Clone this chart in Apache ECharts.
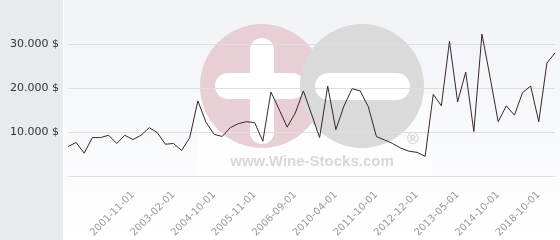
<!DOCTYPE html>
<html>
<head>
<meta charset="utf-8">
<script src="https://cdn.jsdelivr.net/npm/echarts@6/dist/echarts.min.js"></script>
<style>html,body{margin:0;padding:0;background:#fff}#c{width:560px;height:240px}</style>
</head>
<body>
<div id="c"></div>
<script>
var dates = ['', '', '', '', '', '', '', '', '2001-11-01', '', '', '', '', '2003-02-01', '', '', '', '', '2004-10-01', '', '', '', '', '2005-11-01', '', '', '', '', '2006-09-01', '', '', '', '', '2010-04-01', '', '', '', '', '2011-10-01', '', '', '', '', '2012-12-01', '', '', '', '', '2013-05-01', '', '', '', '', '2014-10-01', '', '', '', '', '2018-10-01', '', ''];
var prices = [6750, 7650, 5240, 8780, 8780, 9300, 7430, 9300, 8330, 9300, 11030, 9900, 7270, 7430, 5850, 8780, 17100, 12270, 9520, 9030, 11030, 11950, 12380, 12180, 7950, 19130, 15210, 11140, 14360, 19360, 14100, 8780, 20440, 10580, 15930, 19870, 19360, 15760, 9000, 8240, 7430, 6370, 5690, 5420, 4520, 18590, 15980, 30610, 16880, 23630, 10130, 32250, 22510, 12380, 15980, 13860, 18970, 20480, 12380, 25660, 27980];
var yTicks = [0, 10000, 20000, 30000, 40000];

var chart = echarts.init(document.getElementById('c'), null, {renderer: 'canvas'});
chart.setOption({
  animation: false,
  backgroundColor: '#ffffff',
  graphic: [
    {type: 'rect', z: -10, shape: {x: 0, y: 0, width: 63, height: 240}, style: {fill: '#e8ebee'}},
    {type: 'rect', z: -10, shape: {x: 64, y: 0, width: 496, height: 240},
      style: {fill: new echarts.graphic.LinearGradient(0, 0, 0, 1, [{offset: 0, color: '#f0f2f6'}, {offset: 1, color: '#ffffff'}])}},
    {type: 'rect', z: -9, shape: {x: 197, y: 95, width: 235, height: 80}, style: {fill: '#ffffff', opacity: 0.55}},
    {type: 'circle', z: -8, shape: {cx: 262, cy: 86, r: 62}, style: {fill: '#e8cfd6'}},
    {type: 'rect', z: -8, shape: {x: 215, y: 73, width: 90, height: 26, r: 13}, style: {fill: '#ffffff'}},
    {type: 'rect', z: -8, shape: {x: 250, y: 38, width: 24, height: 106, r: 12}, style: {fill: '#ffffff'}},
    {type: 'circle', z: -7, shape: {cx: 362, cy: 86, r: 62}, style: {fill: '#dadada'}},
    {type: 'rect', z: -7, shape: {x: 315, y: 73, width: 95, height: 27, r: 13.5}, style: {fill: '#ffffff'}},
    {type: 'text', z: -7, style: {x: 312, y: 162, text: 'www.Wine-Stocks.com', font: 'bold 15px "Liberation Sans", Arial, sans-serif', fill: '#d8d8d8', align: 'center', verticalAlign: 'middle'}},
    {type: 'text', z: -7, style: {x: 413, y: 140, text: '®', font: 'bold 16px "Liberation Sans", Arial, sans-serif', fill: '#d4d4d4', align: 'center', verticalAlign: 'middle'}}
  ],
  grid: {left: 68, right: 5, top: 0, bottom: 62, containLabel: false},
  xAxis: {
    type: 'category',
    data: dates,
    boundaryGap: false,
    axisLine: {show: true, lineStyle: {color: '#dedede', width: 1}},
    axisTick: {show: false},
    splitLine: {show: false},
    axisLabel: {interval: 0, rotate: 45, margin: 17, color: '#9a9a9a', fontSize: 10, fontFamily: 'DejaVu Sans'}
  },
  yAxis: {
    type: 'value',
    min: yTicks[0],
    max: yTicks[yTicks.length - 1],
    interval: 10000,
    axisLine: {show: false},
    axisTick: {show: false},
    splitLine: {show: true, lineStyle: {color: ['#dedede', '#dedede', '#dedede', '#dedede', 'rgba(0,0,0,0)'], width: 1}},
    axisLabel: {
      margin: 9, color: '#333333', fontSize: 11, fontFamily: 'DejaVu Sans',
      formatter: function (v) { return (v === 0 || v === 40000) ? '' : (v / 1000) + '.000 $'; }
    }
  },
  series: [{
    type: 'line',
    data: prices,
    showSymbol: false,
    symbol: 'none',
    lineStyle: {color: '#3a2432', width: 1},
    z: 5
  }]
});
</script>
</body>
</html>
